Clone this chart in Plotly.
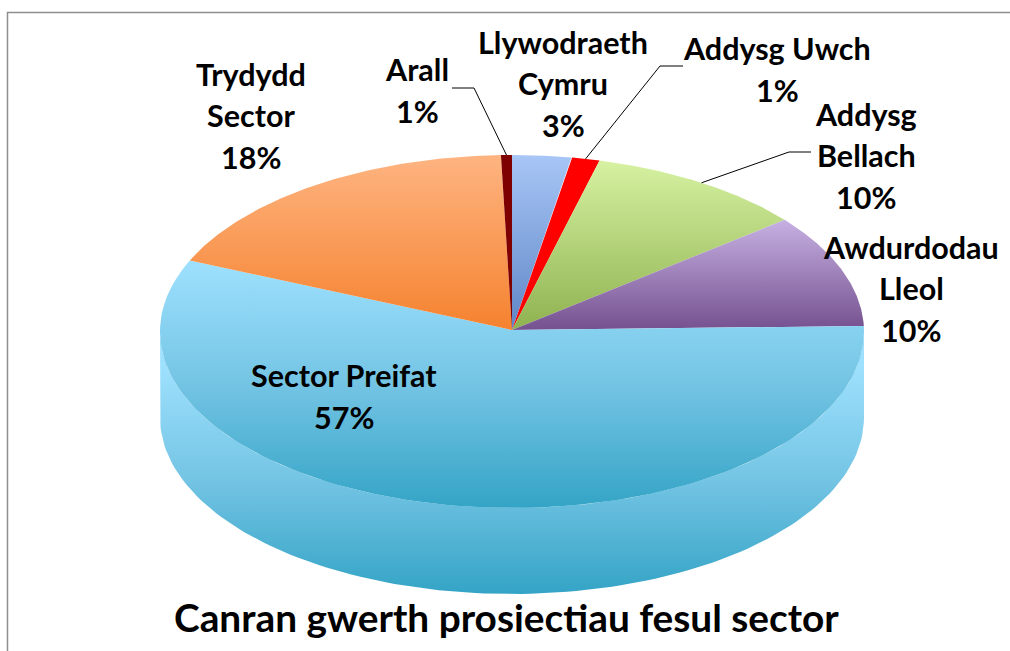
import math
import plotly.graph_objects as go

# ---- data (percent of value, clockwise from 12 o'clock)
categories = ["Llywodraeth Cymru", "Addysg Uwch", "Addysg Bellach", "Awdurdodau Lleol",
              "Sector Preifat", "Trydydd Sector", "Arall"]
values = [2.7, 1.3, 10.1, 10.4, 57.1, 17.9, 0.5]
title_text = "Canran gwerth prosiectiau fesul sector"
label_lines = [["Llywodraeth", "Cymru", "3%"], ["Addysg Uwch", "1%"], ["Addysg", "Bellach", "10%"],
               ["Awdurdodau", "Lleol", "10%"], ["Sector Preifat", "57%"], ["Trydydd", "Sector", "18%"],
               ["Arall", "1%"]]

# ---- styles and placement
face_scales = [
    [[0, "#A8C6F6"], [1, "#5F86C6"]],
    [[0, "#FF0000"], [1, "#FF0000"]],
    [[0, "#D6F2A2"], [1, "#8FB250"]],
    [[0, "#C6B0E2"], [1, "#75518F"]],
    [[0, "#9EE1FE"], [0.5, "#74C4E4"], [1, "#34A4C6"]],
    [[0, "#FEB481"], [1, "#F5822F"]],
    [[0, "#7F0000"], [1, "#7F0000"]],
]
label_pos = [(563, 83), (777, 69), (866, 155), (911, 288), (344, 396), (251, 115), (417, 90)]
leaders = {1: [(660, 66), (683, 66)], 2: [(789, 152), (811, 152)], 6: [(474, 88), (452, 88)]}
FONT = "Lato, Carlito, Calibri, sans-serif"
LABEL_SIZE, TITLE_SIZE, LINE_GAP = 30.5, 38.8, 41.5

# ---- pie geometry (pixels, the axes are mapped 1:1 on the page)
CX, CY, RX, RY, DEPTH = 512, 331.5, 352, 176.5, 86
APEX_Y = 330
WALL_TOP, WALL_BOTTOM = 365, 594


def rim(frac):
    t = 2 * math.pi * frac
    return CX + RX * math.sin(t), CY - RY * math.cos(t)


def arc(a, b, n=120):
    return [rim(a + (b - a) * i / n) for i in range(n + 1)]


total = sum(values)
edges = [0.0]
for v in values:
    edges.append(edges[-1] + v / total)

fig = go.Figure()


def poly(pts, scale, y0, y1, name):
    xs = [p[0] for p in pts] + [pts[0][0]]
    ys = [p[1] for p in pts] + [pts[0][1]]
    fig.add_trace(go.Scatter(
        x=xs, y=ys, mode="lines", fill="toself", name=name, hoverinfo="name",
        line=dict(width=0, color=scale[-1][1]),
        fillgradient=dict(type="vertical", start=y0, stop=y1, colorscale=scale),
    ))


# side wall: only the front part of the rim is visible (from 90 deg to 270 deg)
for i, name in enumerate(categories):
    a, b = max(edges[i], 0.25), min(edges[i + 1], 0.75)
    if b <= a:
        continue
    front = arc(a, b)
    wall = front + [(x, y + DEPTH) for x, y in reversed(front)]
    poly(wall, face_scales[i], WALL_TOP, WALL_BOTTOM, name)

# top faces
for i, name in enumerate(categories):
    outline = [(CX, APEX_Y)] + arc(edges[i], edges[i + 1])
    ys = [p[1] for p in outline]
    poly(outline, face_scales[i], min(ys), max(ys), name)

# leader lines: from the rim midpoint of a slice to its label
for i, tail in leaders.items():
    mid = rim((edges[i] + edges[i + 1]) / 2)
    pts = [mid] + tail
    fig.add_trace(go.Scatter(x=[p[0] for p in pts], y=[p[1] for p in pts], mode="lines",
                             line=dict(color="#000000", width=1), hoverinfo="skip"))

annotations = []
for lines, (x, y) in zip(label_lines, label_pos):
    first = y - LINE_GAP * (len(lines) - 1) / 2
    for k, text in enumerate(lines):
        annotations.append(dict(x=x, y=first + k * LINE_GAP, text="<b>" + text + "</b>", showarrow=False,
                                xanchor="center", yanchor="middle",
                                font=dict(family=FONT, size=LABEL_SIZE, color="#000000")))
annotations.append(dict(x=506, y=617, text="<b>" + title_text + "</b>", showarrow=False,
                        xanchor="center", yanchor="middle",
                        font=dict(family=FONT, size=TITLE_SIZE, color="#000000")))

fig.update_layout(
    width=1010, height=651, margin=dict(l=0, r=0, t=0, b=0),
    paper_bgcolor="#FFFFFF", plot_bgcolor="#FFFFFF", showlegend=False,
    xaxis=dict(range=[0, 1010], visible=False, fixedrange=True),
    yaxis=dict(range=[651, 0], visible=False, fixedrange=True),
    annotations=annotations,
    shapes=[dict(type="rect", xref="x", yref="y", x0=7.5, y0=12.5, x1=1200, y1=900,
                 line=dict(color="#8E8E8E", width=1.5), fillcolor="rgba(0,0,0,0)", layer="below")],
)
fig.write_html("out.html", config=dict(displayModeBar=False),
               post_script="document.body.style.margin='0';document.documentElement.style.overflow='hidden';")
